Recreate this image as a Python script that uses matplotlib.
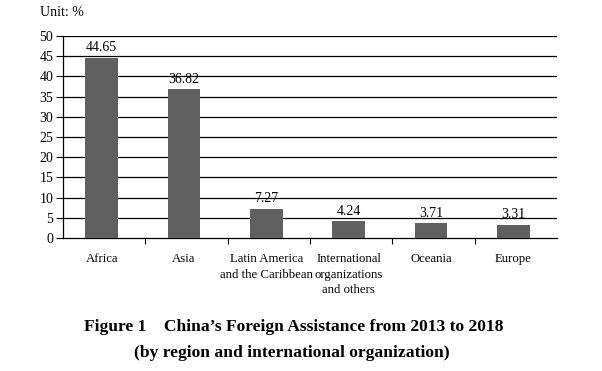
import matplotlib
matplotlib.use("Agg")
import matplotlib.pyplot as plt
import numpy as np

# data
regions = ["Africa", "Asia", "Latin America\nand the Caribbean",
           "International\norganizations\nand others", "Oceania", "Europe"]
shares = [44.65, 36.82, 7.27, 4.24, 3.71, 3.31]
yticks = [0, 5, 10, 15, 20, 25, 30, 35, 40, 45, 50]

plt.rcParams['font.family'] = ['Liberation Serif', 'DejaVu Serif']

fig = plt.figure(figsize=(6.02, 3.71), dpi=100)
ax = fig.add_axes([63 / 602, 1 - 238 / 371, 494 / 602, 202 / 371])

x = np.arange(len(regions))
ax.bar(x - 0.03, shares, width=0.4, color="#606060", zorder=3)
for xi, v in zip(x, shares):
    ax.text(xi - 0.03, v + 0.8, f"{v:.2f}", ha="center", va="bottom", fontsize=10)

ax.set_xlim(-0.5, len(regions) - 0.5)
ax.set_ylim(0, 50)
ax.set_yticks(yticks)
ax.set_yticklabels([str(t) for t in yticks], fontsize=10)
for t in yticks[1:]:
    ax.axhline(t, color="black", lw=0.9, zorder=1)

# category ticks between the bars
ax.set_xticks(np.arange(0.5, len(regions) - 0.5, 1.0))
ax.set_xticklabels([])
ax.tick_params(axis="x", length=4, direction="out", width=0.8)
ax.tick_params(axis="y", length=5, direction="out", width=0.8, pad=2)
for xi, name in zip(x, regions):
    ax.text(xi - 0.03, -3.7, name, ha="center", va="top", fontsize=9.2,
            linespacing=1.4)

for side in ["top", "right"]:
    ax.spines[side].set_visible(False)
ax.spines["left"].set_linewidth(0.9)
ax.spines["bottom"].set_linewidth(0.9)

fig.text(40 / 602, 1 - 13 / 371, "Unit: %", fontsize=10, va="center")
fig.text(294 / 602, 1 - 327 / 371,
         "Figure 1    China\u2019s Foreign Assistance from 2013 to 2018",
         ha="center", va="center", fontsize=12.6, fontweight="bold")
fig.text(292 / 602, 1 - 353 / 371,
         "(by region and international organization)",
         ha="center", va="center", fontsize=12.6, fontweight="bold")

fig.savefig("out.png", dpi=100)
